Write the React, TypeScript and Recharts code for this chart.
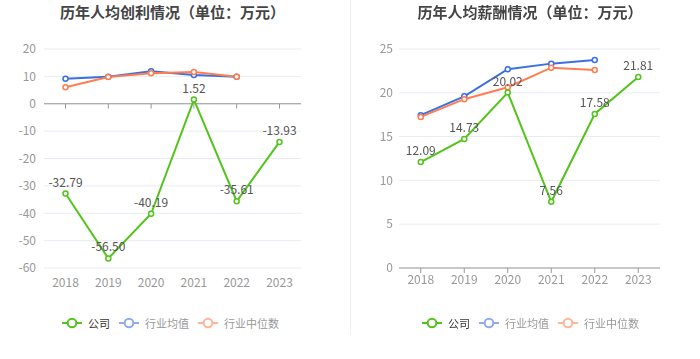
import React from 'react';
import { LineChart, Line, XAxis, YAxis, CartesianGrid, ReferenceLine, LabelList } from 'recharts';

const years = ['2018', '2019', '2020', '2021', '2022', '2023'];

const profitCompany = [-32.79, -56.5, -40.19, 1.52, -35.61, -13.93];
const profitAvg = [9.1, 9.9, 11.9, 10.5, 9.9, null];
const profitMedian = [6.0, 9.8, 11.1, 11.6, 9.9, null];
const profitTicks = [-60, -50, -40, -30, -20, -10, 0, 10, 20];

const salaryCompany = [12.09, 14.73, 20.02, 7.56, 17.58, 21.81];
const salaryAvg = [17.45, 19.6, 22.7, 23.33, 23.75, null];
const salaryMedian = [17.25, 19.27, 20.64, 22.87, 22.6, null];
const salaryTicks = [0, 5, 10, 15, 20, 25];

const GREEN = '#52C41A';
const BLUE = '#3B6FE3';
const ORANGE = '#FF7D4F';
const FONT = '"Noto Sans CJK SC", "Noto Sans", sans-serif';

const profitData = years.map((y, i) => ({
  year: y,
  company: profitCompany[i],
  avg: profitAvg[i],
  median: profitMedian[i],
}));

const salaryData = years.map((y, i) => ({
  year: y,
  company: salaryCompany[i],
  avg: salaryAvg[i],
  median: salaryMedian[i],
}));

function LegendIcon({ color }: { color: string }) {
  return (
    <svg width={20} height={12} style={{ marginRight: 6 }}>
      <line x1={0} y1={6} x2={20} y2={6} stroke={color} strokeWidth={2} />
      <circle cx={10} cy={6} r={4.3} fill="#fff" stroke={color} strokeWidth={2} />
    </svg>
  );
}

function ChartLegend() {
  const items = [
    { name: '公司', color: GREEN, text: '#333' },
    { name: '行业均值', color: '#8EABF1', text: '#999' },
    { name: '行业中位数', color: '#FFB59C', text: '#999' },
  ];
  return (
    <div style={{ display: 'flex', justifyContent: 'center', alignItems: 'center', fontSize: 11, fontFamily: FONT }}>
      {items.map((it) => (
        <div key={it.name} style={{ display: 'flex', alignItems: 'center', margin: '0 4.5px', color: it.text }}>
          <LegendIcon color={it.color} />
          {it.name}
        </div>
      ))}
    </div>
  );
}

const tickStyle = { fill: '#999', fontSize: 12, fontFamily: FONT };
const labelFmt = (v: any) => (typeof v === 'number' ? v.toFixed(2) : v);

function series() {
  return [
    <Line key="avg" dataKey="avg" stroke={BLUE} strokeWidth={2} isAnimationActive={false}
      dot={{ r: 2.5, fill: '#fff', stroke: BLUE, strokeWidth: 1.5 }} activeDot={false} />,
    <Line key="median" dataKey="median" stroke={ORANGE} strokeWidth={2} isAnimationActive={false}
      dot={{ r: 2.5, fill: '#fff', stroke: ORANGE, strokeWidth: 1.5 }} activeDot={false} />,
    <Line key="company" dataKey="company" stroke={GREEN} strokeWidth={2} isAnimationActive={false}
      dot={{ r: 2.5, fill: '#fff', stroke: GREEN, strokeWidth: 1.5 }} activeDot={false}>
      <LabelList dataKey="company" position="top" offset={7} formatter={labelFmt}
        style={{ fill: '#555', fontSize: 12, fontFamily: FONT }} />
    </Line>,
  ];
}

export default function App() {
  return (
    <div style={{ position: 'fixed', left: 0, top: 0, width: 700, height: 359, background: '#fff', display: 'flex' }}>
      <div style={{ position: 'relative', width: 350, height: 359 }}>
        <div style={{ position: 'absolute', top: 0, left: 0, width: 345, textAlign: 'center', fontSize: 15, fontWeight: 'bold', color: '#444', fontFamily: FONT, lineHeight: '24px' }}>
          历年人均创利情况（单位：万元）
        </div>
        <LineChart width={350} height={359} data={profitData} margin={{ top: 49, right: 49, bottom: 61, left: 0 }}>
          <CartesianGrid vertical={false} stroke="#E8ECF4" />
          <XAxis dataKey="year" axisLine={false} tickLine={false} tick={tickStyle} tickMargin={4} height={30}
            padding={{ left: 21.5, right: 21.5 }} />
          <YAxis domain={[-60, 20]} ticks={profitTicks} axisLine={false} tickLine={false} tick={tickStyle} width={44} />
          <ReferenceLine y={0} stroke="#999" strokeWidth={1} />
          {years.map((y) => (
            <ReferenceLine key={y} segment={[{ x: y, y: 0 }, { x: y, y: -1.8 }]} stroke="#999" />
          ))}
          {series()}
        </LineChart>
        <div style={{ position: 'absolute', top: 315, left: 0, width: 341 }}>
          <ChartLegend />
        </div>
        <div style={{ position: 'absolute', top: 0, right: -1, width: 1, height: 335, background: '#F0F0F0' }} />
      </div>
      <div style={{ position: 'relative', width: 350, height: 359 }}>
        <div style={{ position: 'absolute', top: 0, left: 5, width: 350, textAlign: 'center', fontSize: 15, fontWeight: 'bold', color: '#444', fontFamily: FONT, lineHeight: '24px' }}>
          历年人均薪酬情况（单位：万元）
        </div>
        <LineChart width={350} height={359} data={salaryData} margin={{ top: 49, right: 40, bottom: 61, left: 0 }}>
          <CartesianGrid vertical={false} stroke="#E8ECF4" />
          <XAxis dataKey="year" axisLine={{ stroke: '#999' }} tickLine={{ stroke: '#999' }} tickSize={5} tick={tickStyle} tickMargin={2} height={30}
            padding={{ left: 21.75, right: 21.75 }} />
          <YAxis domain={[0, 25]} ticks={salaryTicks} axisLine={false} tickLine={false} tick={tickStyle} width={49} tickMargin={0} />
          {series()}
        </LineChart>
        <div style={{ position: 'absolute', top: 315, left: 5, width: 351 }}>
          <ChartLegend />
        </div>
      </div>
    </div>
  );
}
